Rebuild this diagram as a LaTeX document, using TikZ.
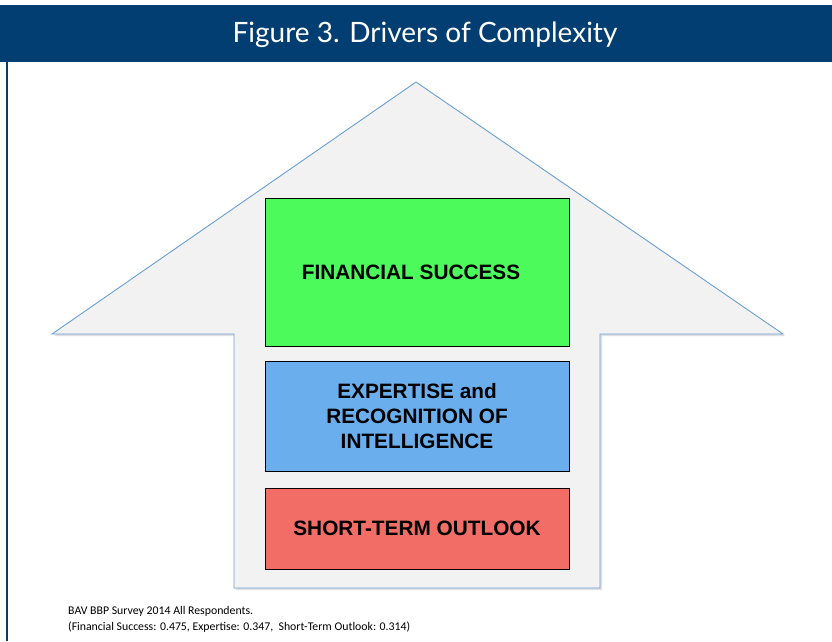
\documentclass[tikz,border=0pt]{standalone}
\usepackage{fontspec}
\setmainfont{Liberation Sans}
\newfontfamily\headfont{Lato}
\newfontfamily\notefont{Carlito}
\definecolor{bandblue}{HTML}{033E72}
\definecolor{arrowline}{HTML}{6A9FD6}
\definecolor{arrowfill}{HTML}{F2F2F2}
\definecolor{boxgreen}{HTML}{4CFA5C}
\definecolor{boxblue}{HTML}{6AAEEE}
\definecolor{boxred}{HTML}{F26D66}
\tikzset{
  driverbox/.style={draw=black, line width=0.8pt, minimum width=304pt, align=center,
    font=\fontsize{20.8}{25}\selectfont\bfseries, inner sep=0pt}
}
\begin{document}
\begin{tikzpicture}[x=1pt,y=-1pt]
  \useasboundingbox (0,0) rectangle (832,641);
  % header band
  \fill[bandblue] (0,5) rectangle (832,62);
  \node[text=white, font=\headfont\fontsize{28}{30}\selectfont] (title) at (425,35) {Figure 3. Drivers of Complexity};
  \draw[bandblue, line width=1.2pt] (7,62) -- (7,641);
  % arrow with soft shadow
  \fill[black!12] (417,84)--(785,336)--(602,336)--(602,590)--(236,590)--(236,336)--(54,336)--cycle;
  \filldraw[fill=arrowfill, draw=arrowline, line width=0.9pt]
    (416,82)--(783,334)--(600,334)--(600,588)--(234,588)--(234,334)--(52,334)--cycle;
  % driver boxes
  \node[driverbox, fill=boxgreen, minimum height=148pt] (fin) at (417,272) {FINANCIAL SUCCESS\hspace{12pt}};
  \node[driverbox, fill=boxblue, minimum height=110pt] (exp) at (417,416) {EXPERTISE and\\RECOGNITION OF\\INTELLIGENCE};
  \node[driverbox, fill=boxred, minimum height=81pt] (sto) at (417,528.5) {SHORT-TERM OUTLOOK};
  % source note
  \node[anchor=north west, align=left, font=\notefont\fontsize{11.8}{16}\selectfont, inner sep=0pt] (note) at (68,606)
    {BAV BBP Survey 2014 All Respondents.\\(Financial Success: 0.475, Expertise: 0.347,\ \ Short-Term Outlook: 0.314)};
\end{tikzpicture}
\end{document}
